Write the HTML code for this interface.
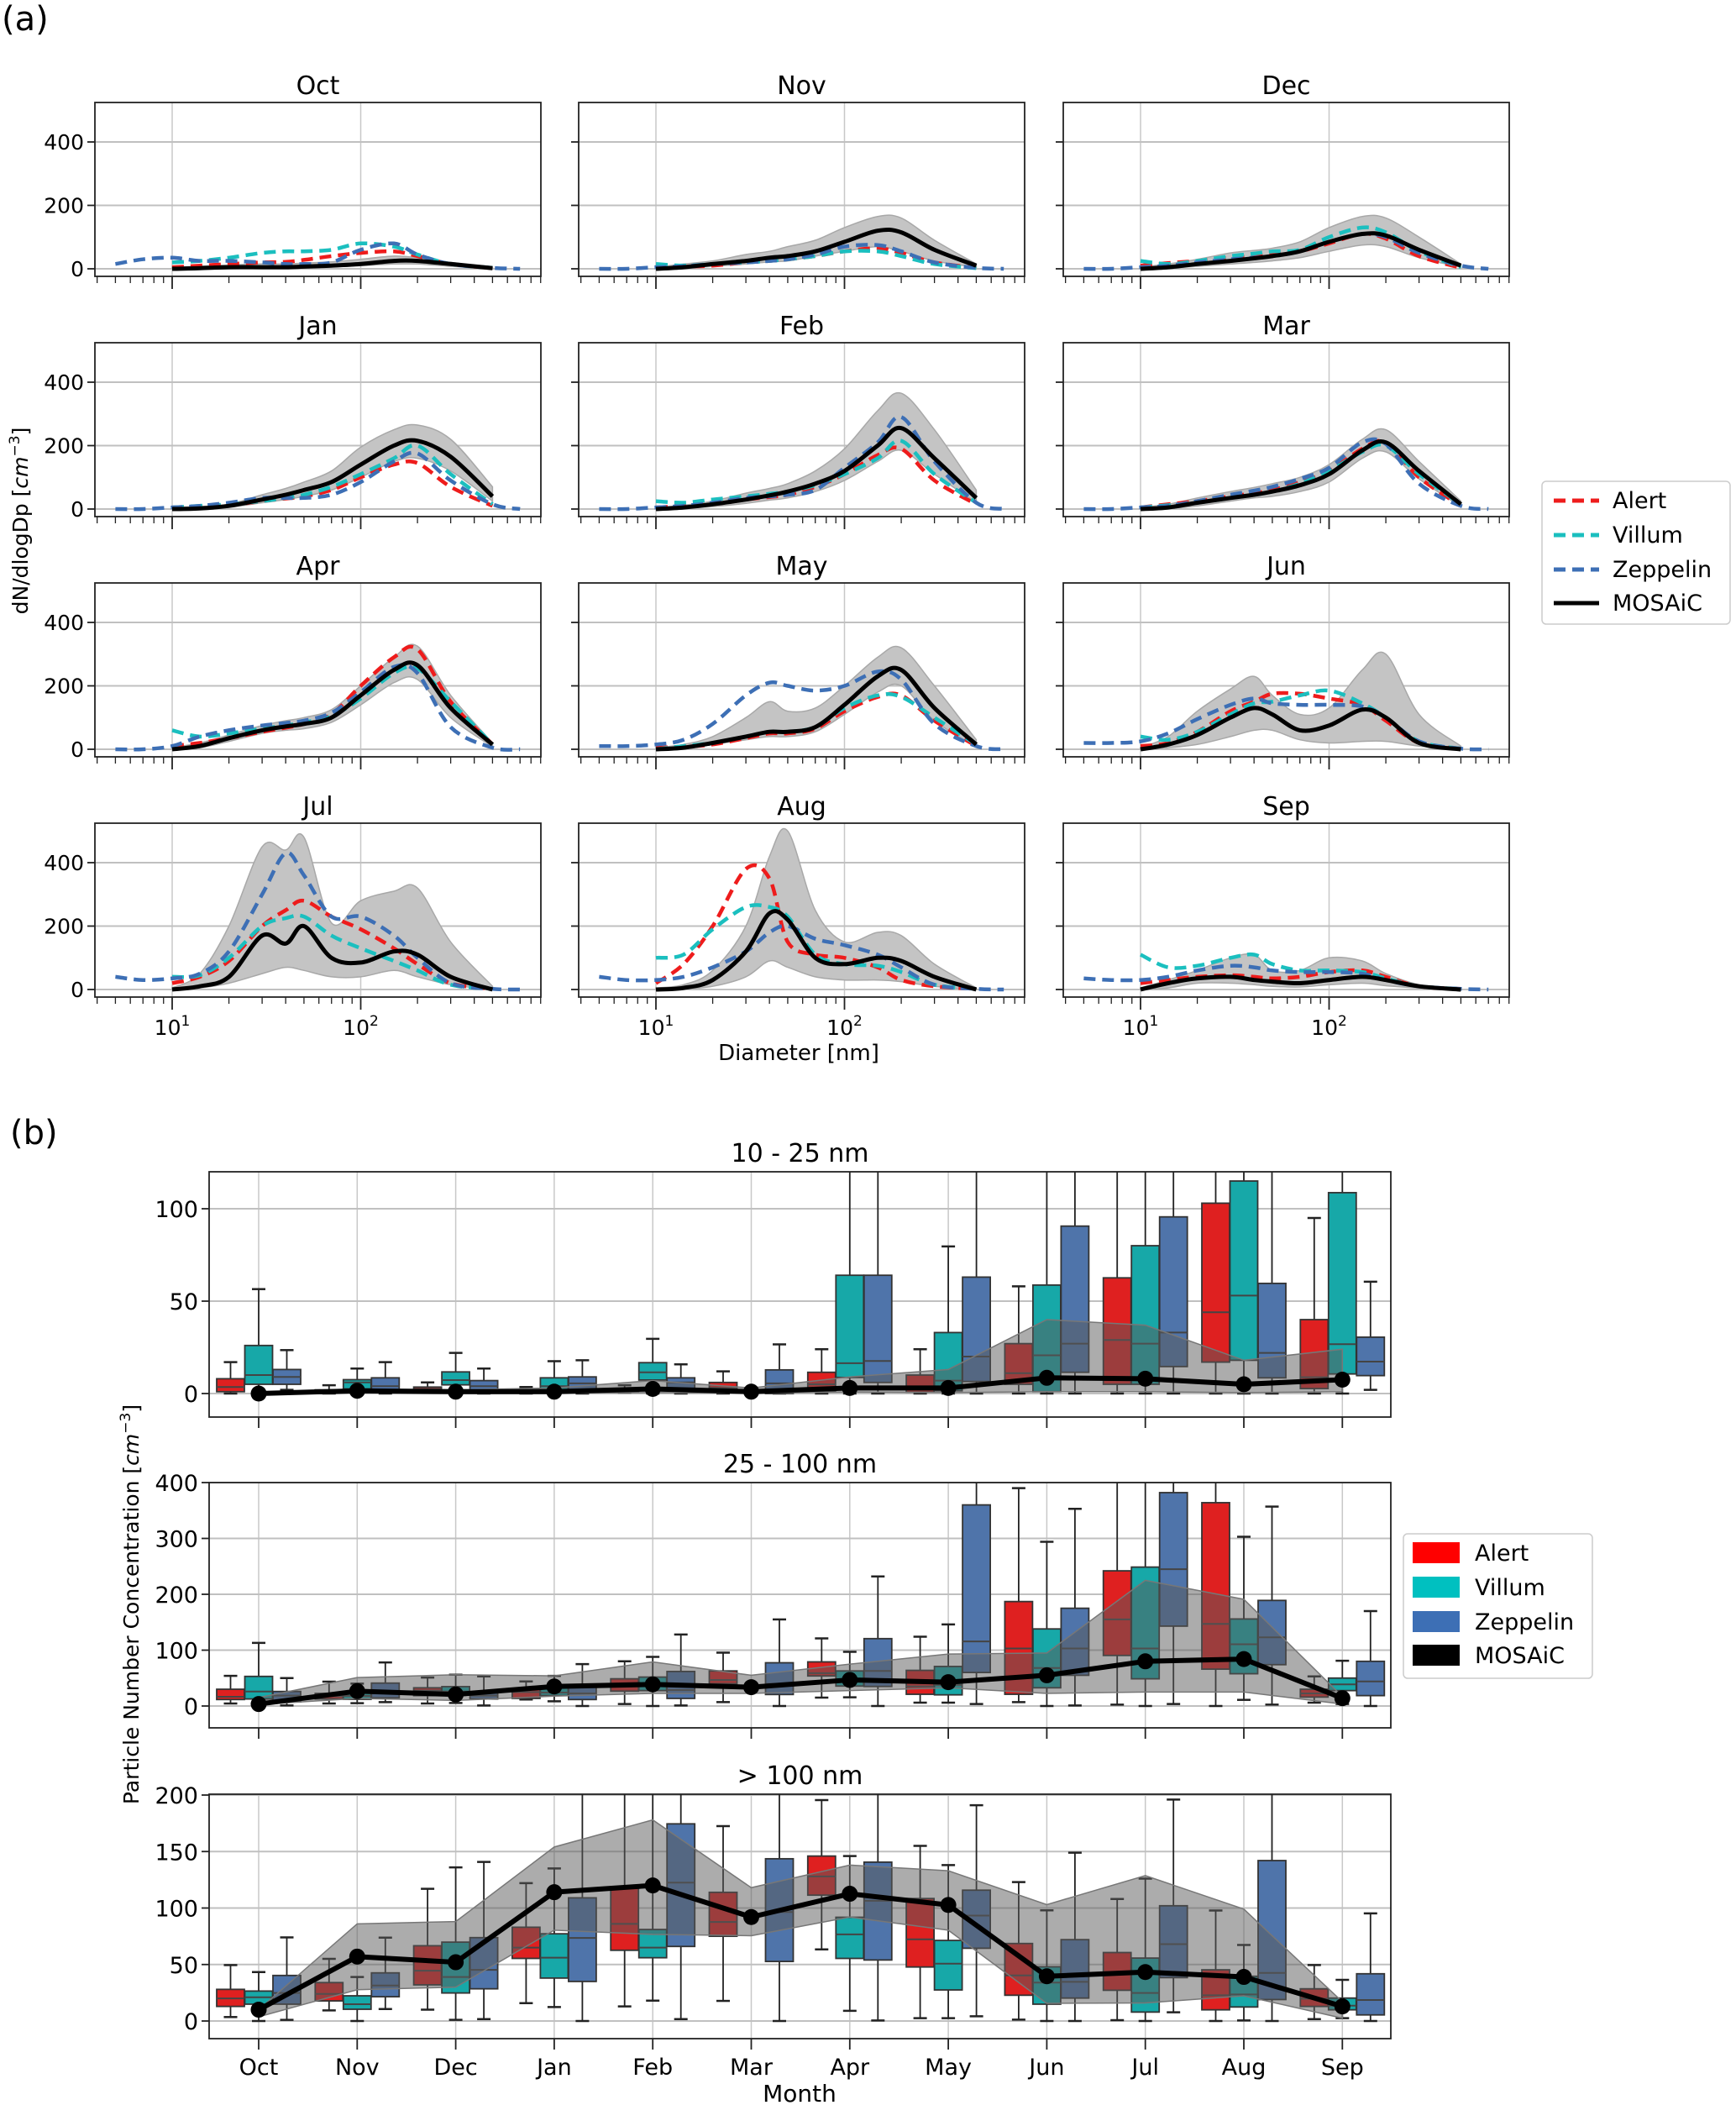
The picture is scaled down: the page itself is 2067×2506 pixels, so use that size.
<!DOCTYPE html>
<html><head><meta charset="utf-8">
<style>
html,body{margin:0;padding:0;background:#fff;}
svg{display:block;font-family:"DejaVu Sans","Liberation Sans",sans-serif;}
</style></head>
<body>
<svg id="fig" width="2067" height="2506" viewBox="0 0 2067 2506" xmlns="http://www.w3.org/2000/svg">
<rect x="0" y="0" width="2067" height="2506" fill="#fff"/>
<text x="2" y="36" font-size="40">(a)</text>
<text x="12" y="1362" font-size="40">(b)</text>
<text transform="translate(33,620) rotate(-90)" text-anchor="middle" font-size="25">dN/dlogDp [<tspan font-style="italic">cm</tspan><tspan dy="-10" font-size="17">−3</tspan><tspan dy="10">]</tspan></text>
<text x="951" y="1262" text-anchor="middle" font-size="26">Diameter [nm]</text>
<text transform="translate(165,1910) rotate(-90)" text-anchor="middle" font-size="25">Particle Number Concentration [<tspan font-style="italic">cm</tspan><tspan dy="-10" font-size="17">−3</tspan><tspan dy="10">]</tspan></text>
<text x="952" y="2502" text-anchor="middle" font-size="28">Month</text>
<g id="layerA"></g>
<g id="layerB"></g>
<g>
<rect x="1836" y="573" width="224" height="170" rx="5" fill="#fff" stroke="#ccc" stroke-width="1.5"/>
<line x1="1850" y1="596" x2="1904" y2="596" stroke="#ee1c1c" stroke-width="5" stroke-dasharray="14 8"/>
<text x="1920" y="605" font-size="27">Alert</text>
<line x1="1850" y1="637" x2="1904" y2="637" stroke="#1bbfbf" stroke-width="5" stroke-dasharray="14 8"/>
<text x="1920" y="646" font-size="27">Villum</text>
<line x1="1850" y1="678" x2="1904" y2="678" stroke="#3d6fb5" stroke-width="5" stroke-dasharray="14 8"/>
<text x="1920" y="687" font-size="27">Zeppelin</text>
<line x1="1850" y1="718" x2="1904" y2="718" stroke="#000" stroke-width="5"/>
<text x="1920" y="727" font-size="27">MOSAiC</text>
</g>
<g>
<rect x="1671" y="1826" width="225" height="172" rx="5" fill="#fff" stroke="#ccc" stroke-width="1.5"/>
<rect x="1682" y="1836" width="56" height="25" fill="#ff0000"/>
<text x="1756" y="1858" font-size="27">Alert</text>
<rect x="1682" y="1877" width="56" height="25" fill="#00c0c0"/>
<text x="1756" y="1899" font-size="27">Villum</text>
<rect x="1682" y="1918" width="56" height="25" fill="#3d6fb5"/>
<text x="1756" y="1940" font-size="27">Zeppelin</text>
<rect x="1682" y="1958" width="56" height="25" fill="#000"/>
<text x="1756" y="1980" font-size="27">MOSAiC</text>
</g>
</svg>
<script>
// ---------- Panel (a) data ----------
const n = null;
const diamGrid = [5,7,10,14,20,30,40,50,70,100,150,200,300,500,700];
const monthNames = ['Oct','Nov','Dec','Jan','Feb','Mar','Apr','May','Jun','Jul','Aug','Sep'];
const alertSD = [
[n,n,5,10,15,20,22,28,40,50,55,40,15,2,n],
[n,n,5,7,10,20,25,30,40,55,65,50,20,3,n],
[n,n,10,18,25,35,40,45,55,80,110,95,40,3,n],
[n,n,5,8,12,25,33,40,60,100,140,145,70,10,n],
[n,n,5,10,15,30,38,45,70,110,170,190,90,15,n],
[n,n,5,15,25,40,50,60,85,120,190,210,100,10,n],
[n,n,10,20,35,55,68,80,110,200,290,315,150,15,n],
[n,n,5,8,15,35,50,50,65,120,165,170,90,10,n],
[n,n,10,20,55,120,150,175,175,160,140,90,20,2,n],
[n,n,20,40,90,200,250,280,230,190,130,80,20,2,n],
[n,n,20,80,200,380,350,150,110,100,70,30,10,2,n],
[n,n,20,30,40,45,40,35,40,55,60,40,10,2,n]];
const villumSD = [
[n,n,20,25,35,50,55,55,60,80,70,45,15,3,n],
[n,n,15,10,15,20,25,30,40,55,55,40,15,2,n],
[n,n,25,15,25,40,48,55,60,100,130,115,55,5,n],
[n,n,5,10,15,25,35,45,70,110,160,200,110,15,n],
[n,n,25,20,30,40,48,55,75,110,160,215,110,20,n],
[n,n,5,12,20,35,45,55,80,120,180,200,110,15,n],
[n,n,60,40,50,65,75,85,105,160,240,255,150,15,n],
[n,n,0,10,20,40,55,55,70,130,170,165,100,15,n],
[n,n,40,30,55,110,145,150,170,185,145,100,25,2,n],
[n,n,40,45,100,200,225,230,170,130,90,60,15,2,n],
[n,n,100,110,190,260,260,230,110,80,75,55,15,2,n],
[n,n,110,70,75,100,110,80,60,60,55,35,10,2,n]];
const zeppelinSD = [
[15,30,35,25,25,20,15,15,20,60,80,45,15,3,0],
[0,0,5,8,15,20,25,30,45,70,75,55,20,3,0],
[0,0,5,10,20,30,35,40,55,85,110,100,50,10,0],
[0,0,5,10,20,35,35,35,45,85,150,175,90,15,0],
[0,0,5,10,20,35,40,45,60,130,210,290,150,20,0],
[0,0,5,10,25,45,58,70,95,130,210,205,80,10,0],
[0,0,10,40,60,75,83,90,115,180,260,240,70,5,0],
[10,10,15,30,80,170,210,200,185,200,245,220,80,10,0],
[20,20,25,50,95,140,160,145,140,140,135,100,25,2,0],
[40,30,35,50,120,300,430,360,230,230,170,100,20,2,0],
[40,30,30,40,70,120,180,200,160,140,110,70,15,2,0],
[35,30,30,40,60,75,70,60,55,55,50,30,10,2,0]];
const mosaicSD = [
[n,n,0,2,5,5,5,7,10,15,25,25,15,2,n],
[n,n,0,5,15,25,35,40,55,85,120,115,60,10,n],
[n,n,0,5,15,25,33,40,55,85,110,105,60,10,n],
[n,n,0,2,10,30,45,60,85,140,200,215,165,40,n],
[n,n,0,5,15,30,43,55,80,120,200,255,160,35,n],
[n,n,0,5,20,35,45,55,75,110,185,210,120,15,n],
[n,n,0,10,35,60,72,80,100,170,250,265,130,15,n],
[n,n,0,5,20,40,55,55,70,140,230,250,130,15,n],
[n,n,0,15,45,100,130,110,60,75,125,100,20,0,n],
[n,n,0,10,40,170,145,200,100,85,120,110,40,0,n],
[n,n,0,5,30,120,240,220,100,80,100,90,40,0,n],
[n,n,0,20,35,40,30,25,20,30,40,30,10,0,n]];
const mosaicHiSD = [
[n,n,5,8,12,15,15,18,22,30,40,35,20,4,n],
[n,n,5,15,25,45,55,70,90,130,165,160,90,15,n],
[n,n,5,15,30,50,58,65,85,130,165,160,100,15,n],
[n,n,5,8,15,45,65,85,120,195,250,265,220,70,n],
[n,n,5,12,25,50,65,80,120,190,310,365,250,60,n],
[n,n,5,15,35,55,68,80,100,140,220,250,150,25,n],
[n,n,5,20,45,75,90,100,125,200,290,325,170,20,n],
[n,n,5,15,40,100,150,120,130,200,290,320,200,30,n],
[n,n,5,40,120,190,230,170,110,130,250,300,110,10,n],
[n,n,5,50,200,450,440,480,210,280,310,320,150,10,n],
[n,n,5,15,60,200,420,500,250,150,180,170,80,5,n],
[n,n,5,30,60,100,110,60,60,100,90,50,15,0,n]];
const mosaicLoSD = [
[n,n,0,0,2,2,3,4,6,10,15,15,8,1,n],
[n,n,0,2,8,15,22,25,40,55,70,55,25,5,n],
[n,n,0,2,8,15,20,25,35,55,75,70,35,5,n],
[n,n,0,0,5,20,30,40,60,100,150,160,120,25,n],
[n,n,0,2,8,18,28,35,55,90,150,185,110,20,n],
[n,n,0,2,10,25,35,40,55,85,160,180,95,8,n],
[n,n,0,5,25,50,60,65,85,140,210,220,100,8,n],
[n,n,0,2,15,30,40,40,55,110,180,200,90,8,n],
[n,n,0,5,15,40,60,60,30,20,25,25,10,0,n],
[n,n,0,5,20,50,70,60,40,40,60,40,15,0,n],
[n,n,0,2,10,40,90,70,40,30,30,25,10,0,n],
[n,n,0,5,20,20,15,10,8,15,20,12,5,0,n]];
const yTicksA = [0,200,400];

// ---------- Panel (b) data: [whiskerLow, q1, median, q3, whiskerHigh] ----------
const binTitles = ['10 - 25 nm','25 - 100 nm','> 100 nm'];
const alert10 = [[0,1,3.5,8,17],[0,0.5,1,2,4.5],[0.5,1.5,2.5,3.5,6],[0,0.5,1,2,3.5],[0.5,1,1.5,2,4.5],[0,1.5,3,6,12],[0,1,5,11.5,24],[0,0.7,2.4,10,24],[0,5,11,27,58],[0,5,29,62.6,200],[0,17,44,103,200],[0,2.7,8.8,40,95]];
const villum10 = [[0,5,10,26,56.5],[0,2.5,6,7.5,13.5],[0,4.7,7.3,11.7,22],[0,2,4,8.5,17.5],[0,7.3,11.5,16.7,29.6],null,[0,8.7,16.4,64,200],[0,1.5,7,33,79.6],[0,1,20.7,58.7,200],[0,5,27,80,200],[0,18,53,115,200],[0,10.6,26.7,108.7,200]];
const zepp10 = [[2,5,9,13,23.5],[0,0.5,4,8.5,17],[0,0.5,4,7,13.5],[0,2,5.5,9,18],[0,2,6,8.5,15.8],[0,0,5.5,12.8,26.6],[0,6,17.6,64,200],[0,6.5,20,63,200],[0,11.5,27,90.6,200],[0,14.6,33,95.6,200],[0,8.5,22,59.6,200],[2,9.7,17.3,30.5,60.5]];
const mosaicMed10 = [0,1.5,1,1,2.5,1,3,3,8.5,8,5,7.5];
const mosaicHi10 = [0.5,2.5,2,3,7,3,9,13,40,37,18,24];
const mosaicLo10 = [0,0.5,0.3,0.3,0.5,0.3,0.8,0.5,1,1,0.5,1];
const alert25 = [[4.5,11.6,16.6,30,54],[4.5,12.6,17.6,22.6,43.7],[4.5,18.6,27.6,32.6,51],[11.6,13.6,25,30,44],[3.5,26.6,37.7,48.7,80],[7,39.7,46.7,62.8,95.5],[15,53.8,58.8,79,121],[6,21,35,63.8,124],[7,21,103,187,390],[2.5,90.5,155,242,500],[0,66,147,364,500],[6,16,22.6,30,53]];
const villum25 = [[0,12.6,26,53,113],[5,12,18,25,40],[5.5,19.6,26,34.7,56],[8.5,18.6,24,32.6,54],[0,27.6,38.7,51.8,88],null,[15.6,35.7,45,62.8,97],[6,20,37.7,70.8,146],[0,32.6,68,138,294],[0,48.7,103,248.7,500],[11,57.8,110.5,155.8,303],[3.5,27.6,38.7,50,81]];
const zepp25 = [[1,7.5,18.6,26,50],[7,14.6,25,41,78],[1,12.6,18.6,25,53],[0,11.6,22.6,37.7,75],[1,13.6,28.6,61.8,128],[0,20.6,39.7,77.4,155],[0,35,62.8,120.6,232],[3.5,60,115.6,360,500],[1,55,103,175,353],[3.5,143,245,382,500],[2.5,74,123,189,357],[0,18.6,44,80,170]];
const mosaicMed25 = [3.5,26.6,20.6,35,38.7,33.7,46.7,42.7,55,80,84,14];
const mosaicHi25 = [15,51,56,54,79,55,75,93,95,225,191,17];
const mosaicLo25 = [2.5,13.6,10,17.6,22.6,22.6,27.6,32.6,22.6,25,25,3.5];
const alert100 = [[3.5,12.9,20,28,49.5],[9.4,17.8,24,34,55],[10,32,44.5,66.6,117],[15.8,55.4,65,83,122],[12.9,62.6,86,117.6,250],[17.8,75,87.6,113.9,172.5],[63.4,111.4,128,146,195.5],[2.5,47.8,72.3,108.4,155],[1.2,22.8,40.3,68.6,123],[0.7,27.2,43.3,60.6,108],[0,9.9,22.8,45.3,97.8],[1.7,12.9,19.8,28.5,49.5]];
const villum100 = [[0,14.9,21,26.5,43.3],[0,10.4,14.9,22.3,38.9],[1,24.8,38.9,69.8,136],[12.4,38,56,77.2,135],[18,56,65,81,250],null,[9,55.4,76.7,91.8,146],[2.5,27.5,50.7,71.3,138],[0,14.9,34,48,98],[0,7.9,24.8,55.7,126],[0.5,12.4,23.5,39.6,67.3],[2.5,9.9,13.6,20.3,36.4]];
const zepp100 = [[1,14.9,24.8,40.3,74],[10.6,21.5,31.4,42.6,73.8],[1.7,28.5,45.3,73.8,140.8],[0,35,73.5,109,250],[1.7,66,122.5,174.5,250],[0,52.7,96.5,143.6,250],[0.5,54,106.4,140.6,250],[4.2,64.4,93.3,115.8,191],[0,20.3,34.7,72,149],[7.7,38.4,68,102,196],[0,19,42.6,142,250],[0,5.4,18.6,41.8,95.3]];
const mosaicMed100 = [10,57,52,114,120,92,112.6,102.7,39.6,43.3,39,12.9];
const mosaicHi100 = [10,86,88,154,178,118,138,133,103,128.7,99,17];
const mosaicLo100 = [3.7,27.7,30,80.4,76.7,75.5,92,80.4,15.6,16,22.3,2.5];
const yTicksB = [[0,50,100],[0,100,200,300,400],[0,50,100,150,200]];

// ---------- helpers ----------
const NS = 'http://www.w3.org/2000/svg';
function mk(tag, attrs, parent){
  const e = document.createElementNS(NS, tag);
  for (const k in attrs) e.setAttribute(k, attrs[k]);
  if (parent) parent.appendChild(e);
  return e;
}
function smoothPath(pts){
  if (pts.length < 2) return '';
  let d = 'M' + pts[0][0].toFixed(1) + ',' + pts[0][1].toFixed(1);
  for (let i = 0; i < pts.length - 1; i++){
    const p0 = pts[i-1] || pts[i], p1 = pts[i], p2 = pts[i+1], p3 = pts[i+2] || pts[i+1];
    const c1x = p1[0] + (p2[0]-p0[0])/6, c1y = p1[1] + (p2[1]-p0[1])/6;
    const c2x = p2[0] - (p3[0]-p1[0])/6, c2y = p2[1] - (p3[1]-p1[1])/6;
    d += ' C' + c1x.toFixed(1)+','+c1y.toFixed(1)+' '+c2x.toFixed(1)+','+c2y.toFixed(1)+' '+p2[0].toFixed(1)+','+p2[1].toFixed(1);
  }
  return d;
}

// ---------- Panel (a) ----------
const layerA = document.getElementById('layerA');
const colLeft = [113, 689, 1266];
const rowTop = [122, 408, 694, 980];
const AW = 531, AH = 207;
const defs = mk('defs', {}, document.getElementById('fig'));
monthNames.forEach((m, i) => {
  const r = Math.floor(i/3), c = i % 3;
  const L = colLeft[c], T = rowTop[r];
  const xA = d => L + 92 + (Math.log10(d) - 1) * 224.5;
  const yA = v => T + 198 - v * 0.3775;
  const g = mk('g', {}, layerA);
  
  
  const cp = mk('clipPath', {id: 'clipA' + i}, defs);
  mk('rect', {x: L, y: T, width: AW, height: AH}, cp);
  // grid
  [10,100].forEach(d => mk('line', {x1: xA(d), y1: T, x2: xA(d), y2: T+AH, stroke: '#c8c8c8', 'stroke-width': 1.5}, g));
  yTicksA.forEach(v => mk('line', {x1: L, y1: yA(v), x2: L+AW, y2: yA(v), stroke: '#c0c0c0', 'stroke-width': 2}, g));
  // band
  const cg = mk('g', {'clip-path': 'url(#clipA' + i + ')'}, g);
  const hi = [], lo = [];
  diamGrid.forEach((d, k) => {
    if (mosaicHiSD[i][k] !== null) hi.push([xA(d), yA(mosaicHiSD[i][k])]);
    if (mosaicLoSD[i][k] !== null) lo.push([xA(d), yA(mosaicLoSD[i][k])]);
  });
  lo.reverse();
  const bandD = smoothPath(hi) + ' L' + lo[0][0] + ',' + lo[0][1] + smoothPath(lo).replace(/^M[^ ]+/, '') + ' Z';
  const band = mk('path', {d: bandD, fill: '#c4c4c4', stroke: '#a8a8a8', 'stroke-width': 1.5}, cg);
  
  
  const series = [[alertSD, '#ee1c1c', true, 'alert'], [villumSD, '#1bbfbf', true, 'villum'], [zeppelinSD, '#3d6fb5', true, 'zeppelin'], [mosaicSD, '#000', false, 'mosaic']];
  series.forEach(([arr, col, dash, nm]) => {
    const pts = [];
    diamGrid.forEach((d, k) => { if (arr[i][k] !== null) pts.push([xA(d), yA(arr[i][k])]); });
    const p = mk('path', {d: smoothPath(pts), fill: 'none', stroke: col, 'stroke-width': dash ? 4.5 : 5, 'stroke-linejoin': 'round'}, cg);
    if (dash) p.setAttribute('stroke-dasharray', '14 8');
    
    
  });
  // frame
  mk('rect', {x: L, y: T, width: AW, height: AH, fill: 'none', stroke: '#222', 'stroke-width': 1.8}, g);
  // title
  const t = mk('text', {x: L + AW/2, y: T - 10, 'text-anchor': 'middle', 'font-size': 30}, g);
  t.textContent = m;
  
  
  // y ticks
  yTicksA.forEach(v => {
    mk('line', {x1: L-9, y1: yA(v), x2: L, y2: yA(v), stroke: '#222', 'stroke-width': 1.8}, g);
    if (c === 0){
      const tl = mk('text', {x: L - 13, y: yA(v) + 9, 'text-anchor': 'end', 'font-size': 25}, g);
      tl.textContent = v;
    }
  });
  // x ticks
  for (let dec = 1; dec <= 100; dec *= 10){
    for (let k = 1; k <= 9; k++){
      const d = dec * k * (dec === 1 ? 1 : 1);
      const dd = (dec === 1 ? k : (dec === 10 ? 10*k : 100*k));
      if (dd < 3.9 || dd > 920) continue;
      const major = (dd === 10 || dd === 100);
      mk('line', {x1: xA(dd), y1: T+AH, x2: xA(dd), y2: T+AH + (major ? 15 : 8), stroke: '#222', 'stroke-width': major ? 1.8 : 1.3}, g);
    }
  }
  if (r === 3){
    [[10,'1'],[100,'2']].forEach(([d, e]) => {
      const tl = mk('text', {x: xA(d), y: T + AH + 45, 'text-anchor': 'middle', 'font-size': 25}, g);
      tl.innerHTML = '10<tspan dy="-11" font-size="17">' + e + '</tspan>';
    });
  }
});

// ---------- Panel (b) ----------
const layerB = document.getElementById('layerB');
const BL = 249, BR = 1656;
const xB = m => 308 + m * 117.3;
const subB = [
  {top: 1395, bot: 1687, zero: 1659, k: 2.2},
  {top: 1765, bot: 2057, zero: 2031, k: 0.665},
  {top: 2136, bot: 2427, zero: 2406, k: 1.345}];
const boxData = [[alert10, villum10, zepp10], [alert25, villum25, zepp25], [alert100, villum100, zepp100]];
const medData = [mosaicMed10, mosaicMed25, mosaicMed100];
const hiData = [mosaicHi10, mosaicHi25, mosaicHi100];
const loData = [mosaicLo10, mosaicLo25, mosaicLo100];
const boxColors = ['#df2020', '#17a8a8', '#4f74aa'];
const stationNames = ['alert', 'villum', 'zeppelin'];
subB.forEach((s, si) => {
  const yB = v => s.zero - v * s.k;
  const g = mk('g', {}, layerB);
  
  
  const cp = mk('clipPath', {id: 'clipB' + si}, defs);
  mk('rect', {x: BL, y: s.top, width: BR-BL, height: s.bot - s.top}, cp);
  monthNames.forEach((m, mi) => mk('line', {x1: xB(mi), y1: s.top, x2: xB(mi), y2: s.bot, stroke: '#c8c8c8', 'stroke-width': 1.5}, g));
  yTicksB[si].forEach(v => mk('line', {x1: BL, y1: yB(v), x2: BR, y2: yB(v), stroke: '#c0c0c0', 'stroke-width': 2}, g));
  const cg = mk('g', {'clip-path': 'url(#clipB' + si + ')'}, g);
  boxData[si].forEach((arr, st) => {
    arr.forEach((b, mi) => {
      if (!b) return;
      const cx = xB(mi) + (st - 1) * 33.5, w = 33;
      const bg = mk('g', {}, cg);
      
      
      mk('line', {x1: cx, y1: yB(b[0]), x2: cx, y2: yB(b[1]), stroke: '#222', 'stroke-width': 1.8}, bg);
      mk('line', {x1: cx, y1: yB(b[3]), x2: cx, y2: yB(b[4]), stroke: '#222', 'stroke-width': 1.8}, bg);
      mk('line', {x1: cx-8, y1: yB(b[0]), x2: cx+8, y2: yB(b[0]), stroke: '#222', 'stroke-width': 2.5}, bg);
      mk('line', {x1: cx-8, y1: yB(b[4]), x2: cx+8, y2: yB(b[4]), stroke: '#222', 'stroke-width': 2.5}, bg);
      mk('rect', {x: cx - w/2, y: yB(b[3]), width: w, height: Math.max(1, yB(b[1]) - yB(b[3])), fill: boxColors[st], stroke: '#333', 'stroke-width': 1.8}, bg);
      mk('line', {x1: cx - w/2, y1: yB(b[2]), x2: cx + w/2, y2: yB(b[2]), stroke: '#444', 'stroke-width': 2}, bg);
    });
  });
  // band
  const hp = medData[si].map((_, mi) => xB(mi) + ',' + yB(hiData[si][mi]));
  const lp = medData[si].map((_, mi) => xB(mi) + ',' + yB(loData[si][mi])).reverse();
  const band = mk('polygon', {points: hp.concat(lp).join(' '), fill: 'rgba(90,90,90,0.5)', stroke: '#777', 'stroke-width': 1.5}, cg);
  
  
  const lpts = medData[si].map((v, mi) => xB(mi) + ',' + yB(v)).join(' ');
  const ln = mk('polyline', {points: lpts, fill: 'none', stroke: '#000', 'stroke-width': 6, 'stroke-linejoin': 'round'}, cg);
  
  
  medData[si].forEach((v, mi) => {
    const c = mk('circle', {cx: xB(mi), cy: yB(v), r: 9.5, fill: '#000'}, cg);
    
    
  });
  mk('rect', {x: BL, y: s.top, width: BR-BL, height: s.bot - s.top, fill: 'none', stroke: '#222', 'stroke-width': 1.8}, g);
  const t = mk('text', {x: (BL+BR)/2, y: s.top - 12, 'text-anchor': 'middle', 'font-size': 30}, g);
  t.textContent = binTitles[si];
  
  
  yTicksB[si].forEach(v => {
    mk('line', {x1: BL-9, y1: yB(v), x2: BL, y2: yB(v), stroke: '#222', 'stroke-width': 1.8}, g);
    const tl = mk('text', {x: BL - 13, y: yB(v) + 10, 'text-anchor': 'end', 'font-size': 27}, g);
    tl.textContent = v;
  });
  monthNames.forEach((m, mi) => {
    mk('line', {x1: xB(mi), y1: s.bot, x2: xB(mi), y2: s.bot + 13, stroke: '#222', 'stroke-width': 1.8}, g);
    if (si === 2){
      const tl = mk('text', {x: xB(mi), y: s.bot + 43, 'text-anchor': 'middle', 'font-size': 27}, g);
      tl.textContent = m;
    }
  });
});
</script>
</body></html>
